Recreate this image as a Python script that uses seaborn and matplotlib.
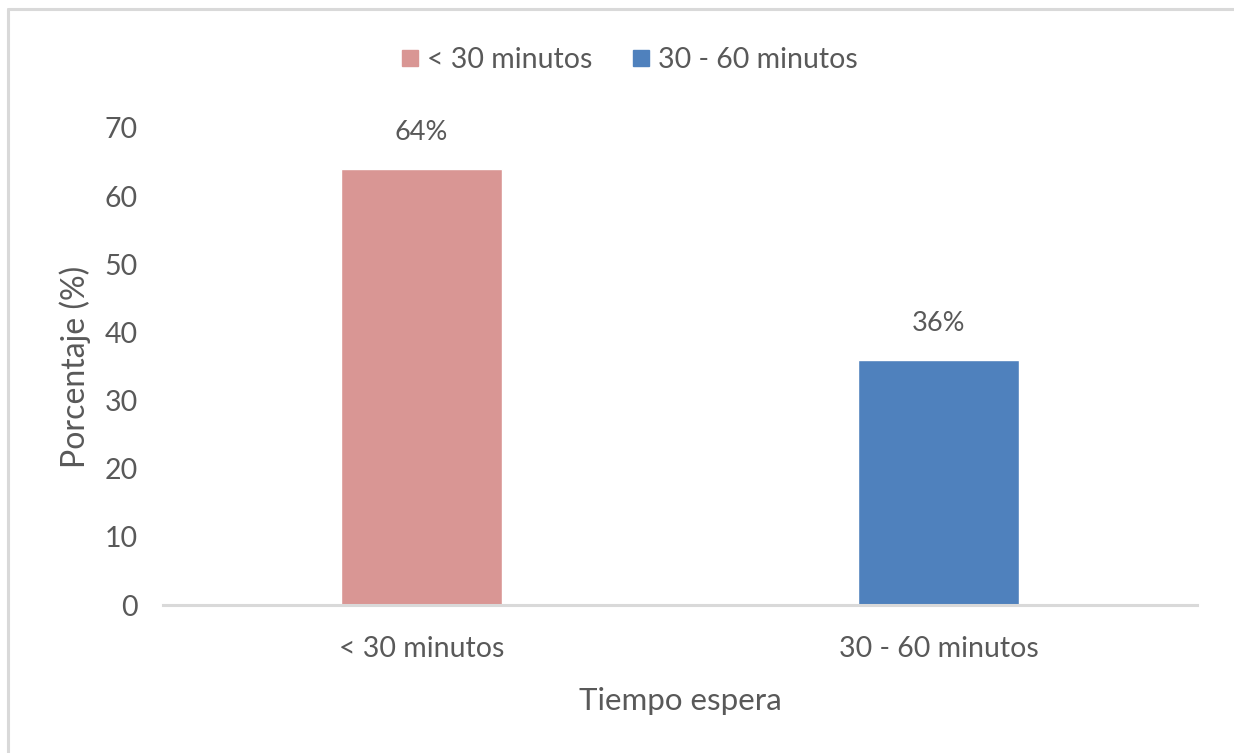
import matplotlib
matplotlib.use("Agg")
import matplotlib.pyplot as plt
import seaborn as sns
import pandas as pd
from matplotlib.lines import Line2D

categories = ["< 30 minutos", "30 - 60 minutos"]
values = [64, 36]
value_labels = ["64%", "36%"]
colors = ["#D99694", "#4F81BD"]
y_ticks = [0, 10, 20, 30, 40, 50, 60, 70]

sns.set_theme(style="white")
plt.rcParams['font.family'] = ['Lato', 'DejaVu Sans']
text_color = "#595959"

df = pd.DataFrame({"cat": categories, "val": values})

fig = plt.figure(figsize=(12.34, 7.53), dpi=100)
ax = fig.add_axes([163/1234, 1-605/753, (1197-163)/1234, (605-128)/753])

sns.barplot(data=df, x="cat", y="val", hue="cat", palette=colors,
            order=categories, hue_order=categories, width=0.313,
            dodge=False, legend=False, ax=ax, saturation=1)

ax.set_ylim(0, 70)
ax.set_yticks(y_ticks)
ax.set_xlim(-0.5, 1.5)
ax.tick_params(axis='both', length=0, labelsize=20.5, labelcolor=text_color)
ax.tick_params(axis='y', pad=18)
ax.tick_params(axis='x', pad=22)

for s in ["top", "right", "left"]:
    ax.spines[s].set_visible(False)
ax.spines["bottom"].set_color("#d9d9d9")
ax.spines["bottom"].set_linewidth(2.2)

for i, cont in enumerate(ax.containers):
    ax.bar_label(cont, labels=[value_labels[i]] if len(cont) == 1 else value_labels,
                 padding=17, fontsize=19.5, color=text_color)

ax.set_ylabel("Porcentaje (%)", fontsize=23, color=text_color, labelpad=10)
ax.set_xlabel("Tiempo espera", fontsize=22.5, color=text_color, labelpad=18)

handles = [Line2D([0], [0], marker='s', linestyle='none', markersize=11.5,
                  markerfacecolor=c, markeredgecolor=c) for c in colors]
fig.legend(handles, categories, loc='center', bbox_to_anchor=(628/1234, 1-60/753),
           ncol=2, frameon=False, fontsize=20.5, labelcolor=text_color,
           handletextpad=0.2, columnspacing=1.3, handlelength=0.8)

# outer border (top and left)
fig.add_artist(Line2D([8/1234, 1], [1-9/753, 1-9/753], color="#d9d9d9", lw=2.2,
                      transform=fig.transFigure))
fig.add_artist(Line2D([8/1234, 8/1234], [0, 1-9/753], color="#d9d9d9", lw=2.2,
                      transform=fig.transFigure))

fig.savefig("out.png", dpi=100)
